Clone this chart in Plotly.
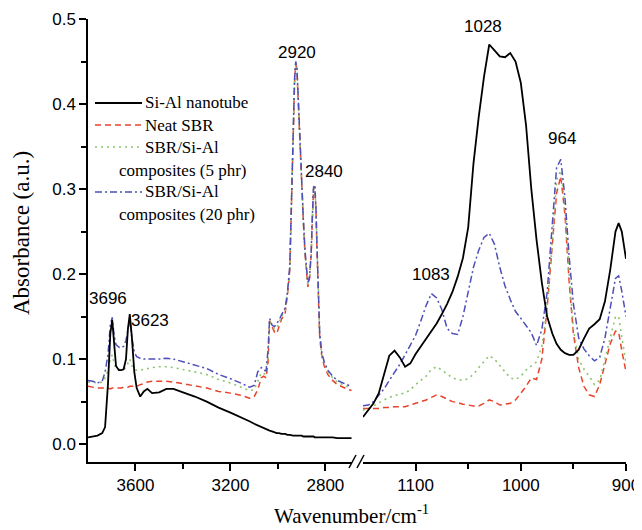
import plotly.graph_objects as go

# ---------------- data ----------------
series_names = ["Si-Al nanotube", "Neat SBR", "SBR/Si-Al<br>composites (5 phr)", "SBR/Si-Al<br>composites (20 phr)"]

wn_left = [3800, 3780, 3760, 3740, 3728, 3716, 3706, 3698, 3690, 3682, 3670, 3660, 3650, 3640, 3632, 3624,
           3615, 3605, 3595, 3580, 3565, 3550, 3530, 3500, 3470, 3440, 3400, 3350, 3300, 3250, 3200, 3150,
           3120, 3100, 3085, 3070, 3060, 3050, 3042, 3035, 3025, 3015, 3005, 2995, 2985, 2970, 2960, 2950,
           2942, 2936, 2930, 2925, 2920, 2914, 2907, 2900, 2893, 2886, 2880, 2874, 2867, 2860, 2855, 2850,
           2845, 2840, 2835, 2830, 2824, 2815, 2805, 2790, 2770, 2750, 2730, 2710, 2690]

nanotube_left = [.008, .009, .010, .013, .020, .070, .130, .146, .120, .092, .087, .087, .088, .100, .135, .153,
                 .125, .085, .066, .056, .062, .065, .060, .061, .065, .065, .061, .056, .050, .043, .037, .031,
                 .027, .024, .022, .020, .019, .018, .017, .016, .015, .014, .013, .013, .012, .012, .011, .011,
                 .010, .010, .010, .010, .010, .010, .010, .010, .009, .009, .009, .009, .009, .009, .009, .009,
                 .008, .008, .008, .008, .008, .008, .008, .008, .008, .007, .007, .007, .007]

sbr_left = [.068, .067, .066, .066, .066, .066, .065, .066, .066, .066, .066, .066, .067, .067, .067, .068,
            .068, .068, .068, .070, .071, .073, .074, .074, .074, .073, .071, .069, .066, .062, .060, .057,
            .054, .056, .064, .078, .080, .078, .095, .145, .138, .132, .130, .140, .147, .153, .175, .205,
            .290, .370, .425, .447, .440, .400, .350, .290, .262, .224, .200, .185, .195, .222, .265, .300,
            .303, .275, .225, .180, .125, .103, .092, .082, .075, .070, .067, .065, .063]

sbr5_left = [.073, .073, .072, .073, .078, .087, .100, .105, .095, .089, .088, .088, .088, .090, .095, .100,
             .092, .088, .087, .087, .088, .089, .090, .091, .091, .090, .088, .085, .082, .076, .072, .066,
             .063, .064, .074, .084, .083, .082, .100, .146, .139, .135, .136, .143, .150, .157, .176, .207,
             .292, .372, .428, .448, .441, .402, .352, .292, .263, .225, .202, .187, .193, .223, .266, .301,
             .303, .278, .228, .183, .128, .105, .095, .085, .078, .073, .070, .068, .066]

sbr20_left = [.075, .074, .072, .074, .085, .105, .140, .149, .128, .117, .114, .113, .115, .122, .134, .147,
              .125, .108, .103, .101, .100, .100, .100, .100, .101, .100, .097, .093, .089, .082, .077, .071,
              .067, .069, .085, .090, .087, .086, .110, .148, .140, .138, .142, .146, .152, .160, .178, .210,
              .295, .375, .430, .450, .443, .405, .355, .295, .265, .228, .204, .190, .196, .225, .268, .302,
              .305, .280, .230, .185, .130, .107, .097, .087, .080, .075, .072, .070, .068]

wn_right = [1150, 1145, 1140, 1135, 1130, 1125, 1120, 1115, 1110, 1105, 1100, 1095, 1090, 1085, 1080, 1075,
            1070, 1065, 1060, 1055, 1050, 1045, 1040, 1035, 1030, 1025, 1020, 1015, 1010, 1005, 1000, 995,
            990, 985, 980, 975, 970, 966, 962, 958, 954, 950, 945, 940, 935, 930, 925, 920, 915, 910, 907,
            904, 900]

nanotube_right = [.032, .040, .048, .060, .082, .104, .110, .102, .091, .095, .106, .115, .124, .133, .142, .153,
                  .165, .179, .197, .219, .255, .330, .385, .432, .470, .463, .456, .455, .460, .450, .425, .375,
                  .300, .240, .190, .150, .130, .118, .111, .107, .105, .105, .111, .124, .136, .141, .147, .168,
                  .205, .250, .260, .250, .218]

sbr_right = [.042, .042, .042, .042, .043, .043, .044, .044, .044, .046, .048, .050, .052, .055, .058, .056,
             .053, .050, .049, .047, .046, .045, .045, .048, .052, .050, .046, .047, .048, .052, .060, .068,
             .078, .076, .100, .160, .235, .295, .315, .270, .190, .130, .090, .068, .058, .056, .070, .095,
             .118, .133, .132, .110, .085]

sbr5_right = [.040, .042, .045, .049, .052, .055, .057, .059, .060, .064, .070, .075, .080, .088, .091, .087,
              .082, .078, .076, .075, .077, .082, .090, .097, .104, .100, .092, .085, .078, .076, .080, .087,
              .092, .097, .115, .160, .240, .310, .322, .280, .200, .135, .100, .088, .080, .070, .075, .100,
              .128, .150, .150, .125, .095]

sbr20_right = [.045, .046, .050, .057, .065, .075, .084, .094, .105, .117, .128, .145, .163, .177, .172, .158,
               .136, .130, .129, .150, .180, .208, .228, .243, .248, .235, .208, .186, .170, .156, .148, .140,
               .131, .116, .135, .178, .260, .325, .335, .290, .220, .165, .125, .112, .104, .098, .102, .125,
               .160, .195, .198, .180, .150]

peak_labels = ["2920", "2840", "1028", "964", "1083", "3696", "3623"]
peak_x = [2920, 2806, 1036, 961, 1085, 3716, 3539]
peak_y = [0.461, 0.321, 0.491, 0.360, 0.199, 0.171, 0.146]
peak_axis = ["x", "x", "x2", "x2", "x2", "x", "x"]

y_ticks = [0.0, 0.1, 0.2, 0.3, 0.4, 0.5]
x_left_ticks = [3600, 3200, 2800]
x_right_ticks = [1100, 1000, 900]

# ---------------- styling ----------------
colors = ["#000000", "#e8432b", "#8cc56e", "#4e4fb8"]
dashes = ["solid", "6px,4px", "2px,4px", "7px,3px,2px,3px"]
widths = [1.8, 1.5, 1.6, 1.5]

# page has an 8px body margin, so the figure is drawn 8px in from the top-left corner
OFF = 8
W, H = 642 - OFF, 530 - OFF
ML, MR, MT, MB = 88 - OFF, 16, 19 - OFF, 68
PW, PH = W - ML - MR, H - MT - MB
X0, Y0 = ML + OFF, MT + OFF + PH   # page-pixel position of the plot area's bottom-left corner


def px(x):
    return (x - X0) / PW


def py(y):
    return (Y0 - y) / PH


fig = go.Figure()
left_sets = [nanotube_left, sbr_left, sbr5_left, sbr20_left]
right_sets = [nanotube_right, sbr_right, sbr5_right, sbr20_right]
order = [1, 2, 3, 0]
for i in order:
    fig.add_trace(go.Scatter(x=wn_left, y=left_sets[i], mode="lines", xaxis="x", yaxis="y",
                             line=dict(color=colors[i], dash=dashes[i], width=widths[i]),
                             showlegend=False, name=series_names[i]))
    fig.add_trace(go.Scatter(x=wn_right, y=right_sets[i], mode="lines", xaxis="x2", yaxis="y",
                             line=dict(color=colors[i], dash=dashes[i], width=widths[i]),
                             showlegend=False, name=series_names[i]))

tick_font = dict(family="Liberation Sans, Arial, sans-serif", size=17, color="#000")
serif = "Liberation Serif, Times New Roman, serif"

left_end = px(352)
right_start = px(363)

axis_common = dict(showline=True, linecolor="#000", linewidth=1.5, ticks="outside", ticklen=7,
                   tickwidth=1.5, tickcolor="#000", showgrid=False, zeroline=False, tickfont=tick_font,
                   automargin=False)

fig.update_layout(
    width=W, height=H, margin=dict(l=ML, r=MR, t=MT, b=MB, autoexpand=False),
    paper_bgcolor="white", plot_bgcolor="white",
    xaxis=dict(domain=[0, left_end], range=[3800, 2688], tickvals=x_left_ticks, anchor="y",
               minor=dict(tickvals=[3400, 3000], ticklen=5, tickwidth=1.5, tickcolor="#000", ticks="outside"),
               **axis_common),
    xaxis2=dict(domain=[right_start, 1], range=[1150, 900], tickvals=x_right_ticks, anchor="y",
                minor=dict(tickvals=[1050, 950], ticklen=5, tickwidth=1.5, tickcolor="#000", ticks="outside"),
                **axis_common),
    yaxis=dict(range=[-0.021, 0.5], tickvals=y_ticks, tickformat=".1f",
               minor=dict(dtick=0.05, tick0=0, ticklen=5, tickwidth=1.5, tickcolor="#000", ticks="outside"),
               **axis_common),
)

annotations = []
for lab, xv, yv, ax in zip(peak_labels, peak_x, peak_y, peak_axis):
    annotations.append(dict(text=lab, x=xv, y=yv, xref=ax, yref="y", showarrow=False,
                            font=tick_font, xanchor="center", yanchor="middle"))

# axis titles
annotations.append(dict(text="Absorbance (a.u.)", textangle=-90, x=px(21), y=py(233), xref="paper", yref="paper",
                        showarrow=False, font=dict(family=serif, size=23, color="#000"),
                        xanchor="center", yanchor="middle"))
annotations.append(dict(text="Wavenumber/cm<sup>-1</sup>", x=px(351), y=py(514), xref="paper", yref="paper",
                        showarrow=False, font=dict(family=serif, size=21, color="#000"),
                        xanchor="center", yanchor="middle"))

# manual legend
legend_rows = [(103, 0, "Si-Al nanotube"), (125, 1, "Neat SBR"), (147, 2, "SBR/Si-Al"),
               (170, None, "composites (5 phr)"), (192, 3, "SBR/Si-Al"), (214, None, "composites (20 phr)")]
shapes = []
leg_font = dict(family=serif, size=17, color="#000")
for ypix, si, txt in legend_rows:
    if si is not None:
        shapes.append(dict(type="line", xref="paper", yref="paper", x0=px(95), x1=px(142), y0=py(ypix), y1=py(ypix),
                           line=dict(color=colors[si], dash=dashes[si], width=widths[si])))
        annotations.append(dict(text=txt, x=px(143), y=py(ypix), xref="paper", yref="paper", showarrow=False,
                                font=leg_font, xanchor="left", yanchor="middle"))
    else:
        annotations.append(dict(text=txt, x=px(117), y=py(ypix), xref="paper", yref="paper", showarrow=False,
                                font=leg_font, xanchor="left", yanchor="middle"))

# axis break marks
for x0 in (349, 357):
    shapes.append(dict(type="line", xref="paper", yref="paper", x0=px(x0), x1=px(x0 + 7), y0=py(468), y1=py(455),
                       line=dict(color="#000", width=1.5)))

fig.update_layout(annotations=annotations, shapes=shapes)
fig.write_html("out.html")
